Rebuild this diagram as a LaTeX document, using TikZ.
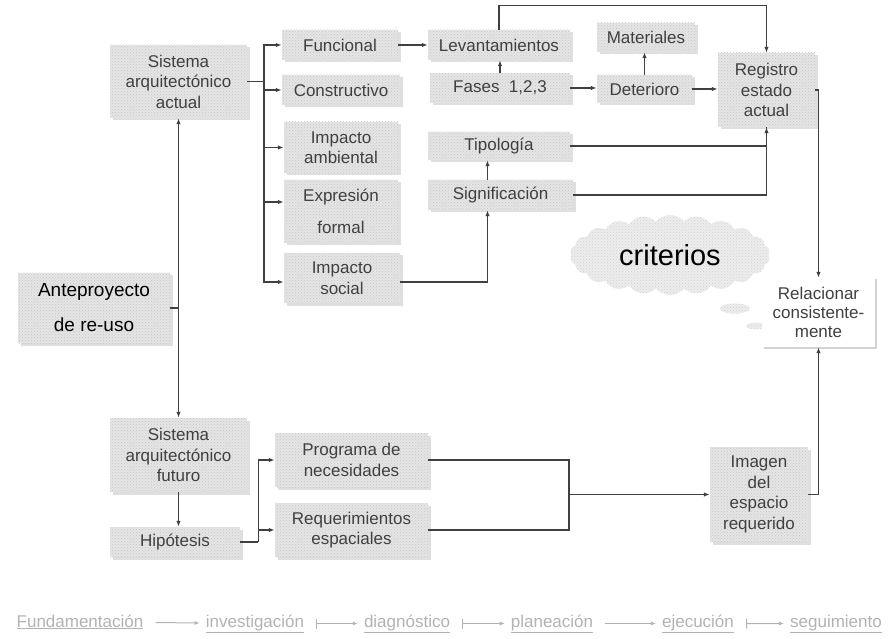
\documentclass[tikz,border=0pt]{standalone}
\usepackage{fontspec}
\setmainfont{Liberation Sans}
\usetikzlibrary{arrows.meta,shapes.symbols,shapes.callouts,shadows,patterns}

\tikzset{
  caja/.style={fill=gray!20, postaction={pattern=crosshatch dots, pattern color=gray!45},
    drop shadow={shadow xshift=2.5pt, shadow yshift=-2.5pt, opacity=0.25},
    text=black!75, align=center, inner sep=2pt, font=\fontsize{17}{20.5}\selectfont},
  nota/.style={fill=white, drop shadow={shadow xshift=1.5pt, shadow yshift=-1.5pt, opacity=0.35},
    text=black!75, align=center, inner sep=2pt, font=\fontsize{17}{19}\selectfont},
  flecha/.style={draw=black!75, line width=1.3pt, -{Latex[length=6pt,width=4.5pt]}},
  linea/.style={draw=black!75, line width=1.3pt},
  etapa/.style={text=gray!60, inner sep=0pt, anchor=base, font=\fontsize{17}{20}\selectfont},
  etapaflecha/.style={draw=gray!60, line width=1pt, -{Latex[length=5pt,width=4pt]}, shorten <=12pt, shorten >=6pt},
  etapabarra/.style={etapaflecha, {Bar[width=10pt]}-{Latex[length=5pt,width=4pt]}},
}

\begin{document}
\begin{tikzpicture}[x=1pt,y=-1pt]
  \useasboundingbox (0,0) rectangle (892,639);

  % Sistema actual y sus aspectos
  \node[caja, minimum width=137pt, minimum height=73pt] (actual) at (178.5,81.5) {Sistema\\arquitectónico\\actual};
  \node[caja, minimum width=116pt, minimum height=30pt] (funcional) at (340,45) {Funcional};
  \node[caja, minimum width=118pt, minimum height=30pt] (constructivo) at (341,90) {Constructivo};
  \node[caja, minimum width=114pt, minimum height=51pt] (ambiental) at (341,147.5) {Impacto\\ambiental};
  \node[caja, minimum width=114pt, minimum height=63pt] (expresion) at (341,211.5) {Expresión\\[11pt]formal};
  \node[caja, minimum width=116pt, minimum height=50pt] (social) at (342,278) {Impacto\\social};

  % Registro
  \node[caja, minimum width=142pt, minimum height=30pt] (levant) at (499,45) {Levantamientos};
  \node[caja, minimum width=140pt, minimum height=30pt] (fases) at (500,88) {Fases\ \ 1,2,3};
  \node[caja, minimum width=98pt, minimum height=29pt] (materiales) at (646,37.5) {Materiales};
  \node[caja, minimum width=95pt, minimum height=28pt] (deterioro) at (644.5,89) {Deterioro};
  \node[caja, minimum width=97pt, minimum height=74pt] (registro) at (766.5,90) {Registro\\estado\\actual};
  \node[caja, minimum width=142pt, minimum height=28pt] (tipologia) at (499,146) {Tipología};
  \node[caja, minimum width=145pt, minimum height=30pt] (signif) at (500.5,195) {Significación};

  % Nube
  \node[cloud callout, cloud puffs=22, cloud puff arc=100, aspect=2.4, minimum width=200pt, minimum height=80pt,
    fill=gray!14, postaction={pattern=crosshatch dots, pattern color=gray!35},
    callout absolute pointer={(756,326)}, font=\fontsize{29}{32}\selectfont] (criterios) at (670,255) {criterios};
  \node[nota, minimum width=113pt, minimum height=69pt] (relacionar) at (818.5,312.5) {Relacionar\\consistente-\\mente};

  \node[caja, minimum width=152pt, minimum height=70pt, text=black, font=\fontsize{19}{23}\selectfont] (antepro) at (94,308) {Anteproyecto\\[12pt]de re-uso};

  % Sistema futuro
  \node[caja, minimum width=137pt, minimum height=74pt] (futuro) at (178.5,455) {Sistema\\arquitectónico\\futuro};
  \node[caja, minimum width=130pt, minimum height=30pt] (hipotesis) at (175,542) {Hipótesis};
  \node[caja, minimum width=153pt, minimum height=54pt] (programa) at (351.5,460) {Programa de\\necesidades};
  \node[caja, minimum width=153pt, minimum height=54pt] (requer) at (351.5,530) {Requerimientos\\espaciales};
  \node[caja, minimum width=98pt, minimum height=95pt] (imagen) at (759,494.5) {Imagen\\del\\espacio\\requerido};

  % Etapas
  \node[etapa] (fund) at (80,627) {\underline{Fundamentación}};
  \node[etapa] (inves) at (255,627) {\underline{investigación}};
  \node[etapa] (diag) at (407,627) {\underline{diagnóstico}};
  \node[etapa] (plan) at (552,627) {\underline{planeación}};
  \node[etapa] (ejec) at (698,627) {\underline{ejecución}};
  \node[etapa] (segu) at (836,627) {\underline{seguimiento}};

  \coordinate (nudo) at (actual.south |- antepro.east);
  \draw[linea] (antepro.east) -- (nudo);
  \draw[flecha] (nudo) -- (actual.south);
  \draw[flecha] (nudo) -- (futuro.north);

  \coordinate (rama) at (264,81.5);
  \draw[linea] (actual.east) -- (rama);
  \draw[flecha] (rama) |- (funcional.west);
  \draw[flecha] (rama) |- (constructivo.west);
  \draw[flecha] (rama) |- (ambiental.west);
  \draw[flecha] (rama) |- ([yshift=9.5pt]expresion.west);
  \draw[flecha] (rama) |- ([yshift=-4pt]social.west);

  \draw[flecha] (funcional) -- (levant);
  \draw[flecha] (fases.north) -- (fases.north |- levant.south);
  \draw[flecha] (fases.east) -- (fases.east -| deterioro.west);
  \draw[flecha] (deterioro.north) -- (deterioro.north |- materiales.south);
  \draw[flecha] (deterioro.east) -- (deterioro.east -| registro.west);
  \draw[flecha] (levant.north) -- ++(0,-24) -| (registro.north);
  \draw[linea] (tipologia.east) -| (registro.south);
  \draw[flecha] (signif.east) -| (registro.south);
  \draw[flecha] ([xshift=-13pt]signif.north) -- ([xshift=-13pt]signif.north |- tipologia.south);
  \draw[flecha] ([yshift=-4pt]social.east) -| ([xshift=-13pt]signif.south);
  \draw[flecha] (registro.east) -| (relacionar.north);
  \draw[flecha] (imagen.east) -| (relacionar.south);

  \draw[flecha] (futuro.south) -- (futuro.south |- hipotesis.north);
  \coordinate (rama2) at ([xshift=18pt]hipotesis.east);
  \draw[linea] (hipotesis.east) -- (rama2);
  \draw[flecha] (rama2) |- (programa.west);
  \draw[flecha] (rama2) |- (requer.west);
  \coordinate (rama3) at (569,494.5);
  \draw[linea] (programa.east) -| (rama3);
  \draw[linea] (requer.east) -| (rama3);
  \draw[flecha] (rama3) -- (imagen.west);

  \draw[etapaflecha] (fund) -- (inves);
  \draw[etapabarra] (inves) -- (diag);
  \draw[etapabarra] (diag) -- (plan);
  \draw[etapaflecha] (plan) -- (ejec);
  \draw[etapabarra] (ejec) -- (segu);
\end{tikzpicture}
\end{document}
